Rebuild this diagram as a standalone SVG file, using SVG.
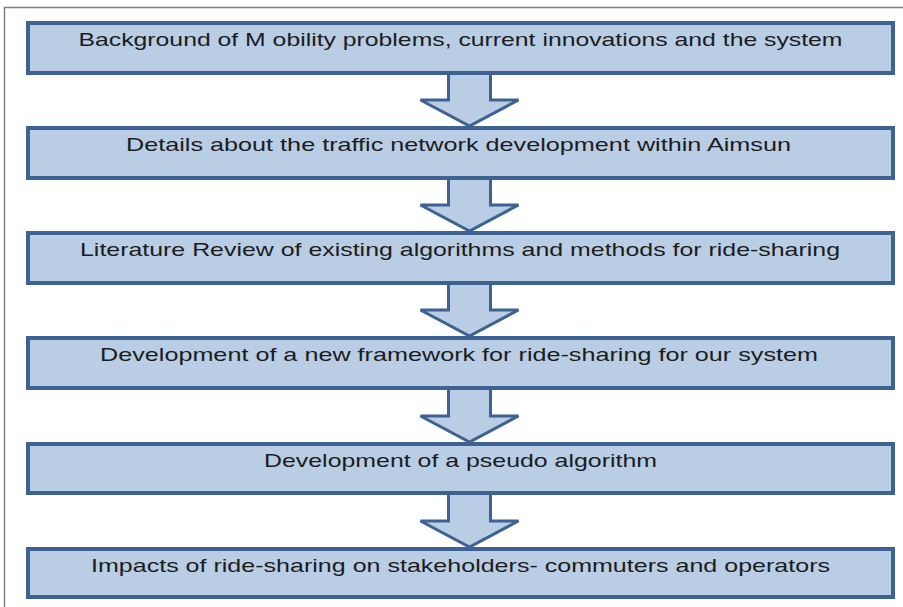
<svg xmlns="http://www.w3.org/2000/svg" width="903" height="607" viewBox="0 0 903 607">
<defs>
<style>
.box{fill:#b9cde5;stroke:#3e6392;stroke-width:4}
.arr{fill:#b9cde5;stroke:#3e6392;stroke-width:3;stroke-linejoin:miter}
.t{font-family:"Liberation Sans",Arial,sans-serif;font-size:19px;fill:#1c1c1c;text-anchor:middle}
</style>
</defs>
<rect width="903" height="607" fill="#ffffff"/>
<path d="M4.5 607 V7.5 H903" fill="none" stroke="#7f7f7f" stroke-width="1.5"/>
<g id="connectors">
<polygon class="arr" points="448.5,73 490.5,73 490.5,100 518.5,100 469.5,126 420.5,100 448.5,100"/>
<polygon class="arr" points="448.5,178 490.5,178 490.5,205 518.5,205 469.5,231 420.5,205 448.5,205"/>
<polygon class="arr" points="448.5,283 490.5,283 490.5,310 518.5,310 469.5,336 420.5,310 448.5,310"/>
<polygon class="arr" points="448.5,388 490.5,388 490.5,416 518.5,416 469.5,442 420.5,416 448.5,416"/>
<polygon class="arr" points="448.5,493 490.5,493 490.5,521 518.5,521 469.5,547 420.5,521 448.5,521"/>
</g>
<g id="n1"><rect class="box" x="28" y="23" width="865" height="50"/><text class="t" x="460.5" y="46" textLength="764" lengthAdjust="spacingAndGlyphs">Background of M obility problems, current innovations and the system</text></g>
<g id="n2"><rect class="box" x="28" y="128" width="865" height="50"/><text class="t" x="458.5" y="151" textLength="665" lengthAdjust="spacingAndGlyphs">Details about the traffic network development within Aimsun</text></g>
<g id="n3"><rect class="box" x="28" y="233" width="865" height="50"/><text class="t" x="460" y="256" textLength="760" lengthAdjust="spacingAndGlyphs">Literature Review of existing algorithms and methods for ride-sharing</text></g>
<g id="n4"><rect class="box" x="28" y="338" width="865" height="50"/><text class="t" x="459" y="361" textLength="718" lengthAdjust="spacingAndGlyphs">Development of a new framework for ride-sharing for our system</text></g>
<g id="n5"><rect class="box" x="28" y="444" width="865" height="49"/><text class="t" x="460.5" y="467" textLength="393" lengthAdjust="spacingAndGlyphs">Development of a pseudo algorithm</text></g>
<g id="n6"><rect class="box" x="28" y="549" width="865" height="48"/><text class="t" x="460.5" y="572" textLength="739" lengthAdjust="spacingAndGlyphs">Impacts of ride-sharing on stakeholders- commuters and operators</text></g>
</svg>
